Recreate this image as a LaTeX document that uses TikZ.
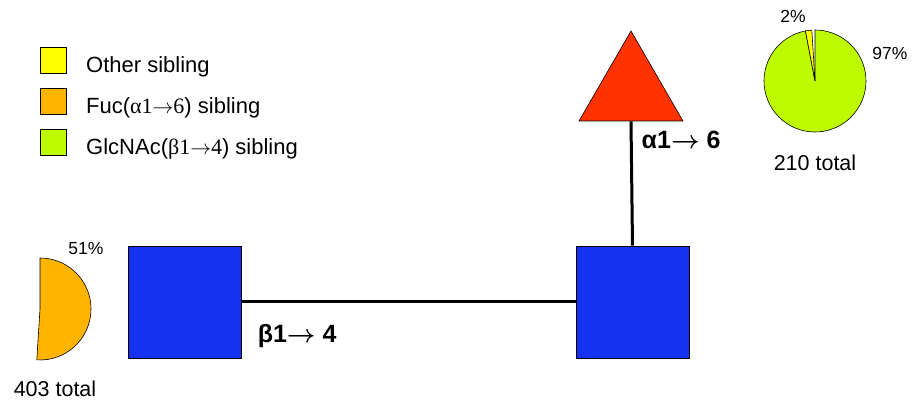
\documentclass[tikz,border=0pt]{standalone}
\usepackage{amsmath}
\usepackage{fontspec}
\setmainfont{Liberation Sans}
\newfontfamily\timesfont{Liberation Serif}
\usetikzlibrary{
	shapes.geometric,
	positioning,
	calc
}

\definecolor{glcblue}{RGB}{20,50,240}
\definecolor{fucred}{RGB}{255,50,0}
\definecolor{othyellow}{RGB}{255,255,0}
\definecolor{fucorange}{RGB}{255,180,0}
\definecolor{glcgreen}{RGB}{190,250,0}

\newcommand{\lnkarrow}{$\boldsymbol{\rightarrow}$}
\newcommand{\keyarrow}{$\rightarrow$}

\begin{document}
\begin{tikzpicture}[
			x=1pt, y=1pt,
			every node/.style={inner sep=0pt},
			sugar/.style={draw=black, line width=0.6pt, fill=glcblue, minimum width=113pt, minimum height=112pt},
			tri/.style={draw=black, line width=0.6pt, fill=fucred, regular polygon, regular polygon sides=3, minimum size=120pt},
			link/.style={line width=3pt},
			lnk/.style={font=\fontsize{25}{25}\selectfont\bfseries},
			key/.style={draw=black, line width=0.6pt, minimum size=26pt},
			keytext/.style={anchor=base west, font=\fontsize{22}{22}\selectfont},
			pct/.style={font=\fontsize{17.5}{17.5}\selectfont},
			tot/.style={font=\fontsize{21.5}{21.5}\selectfont},
			wedge/.style={draw=black, line width=0.6pt}
		]
		\useasboundingbox (0,0) rectangle (914,-403);

		\node[key, fill=othyellow] (keyoth) at (53,-60.5) {};
		\node[key, fill=fucorange, below=14.4pt of keyoth] (keyfuc) {};
		\node[key, fill=glcgreen, below=14.4pt of keyfuc] (keyglc) {};
		\node[keytext] (txtoth) at ($(keyoth.center)+(33,-11.7)$) {Other sibling};
		\node[keytext] (txtfuc) at ($(keyfuc.center)+(33,-11.7)$) {Fuc({\timesfont α1}\keyarrow{\timesfont 6}) sibling};
		\node[keytext] (txtglc) at ($(keyglc.center)+(33,-11.7)$) {GlcNAc({\timesfont β1}\keyarrow{\timesfont 4}) sibling};

		\node[sugar] (glcA) at (184.5,-302) {};
		\node[sugar] (glcB) at (632.5,-302) {};
		\node[tri] (fuc) at (631,-91) {};

		\draw[link] (glcA) -- node[lnk, pos=0.167, below=21pt] {β1\lnkarrow\ 4} (glcB);
		\draw[link] (fuc.south) -- node[lnk, pos=0.15, right=9pt] {α1\lnkarrow\ 6} (glcB.north);

		\coordinate (pieB) at (815,-81);
		\filldraw[wedge, fill=glcgreen] (pieB) -- ++(100.8:51) arc[start angle=100.8, end angle=450, radius=51] -- cycle;
		\filldraw[wedge, fill=othyellow] (pieB) -- ++(93.6:51) arc[start angle=93.6, end angle=100.8, radius=51] -- cycle;
		\node[pct] (pctoth) at (793,-16) {2\%};
		\node[pct] (pctglc) at (890,-53) {97\%};
		\node[tot] (totB) at (815,-163) {210 total};

		\coordinate (pieA) at (40,-309);
		\filldraw[wedge, fill=fucorange] (pieA) -- ++(-93.6:51) arc[start angle=-93.6, end angle=90, radius=51] -- cycle;
		\node[pct] (pctfuc) at (86,-249) {51\%};
		\node[tot] (totA) at (55,-389) {403 total};
	\end{tikzpicture}
\end{document}
